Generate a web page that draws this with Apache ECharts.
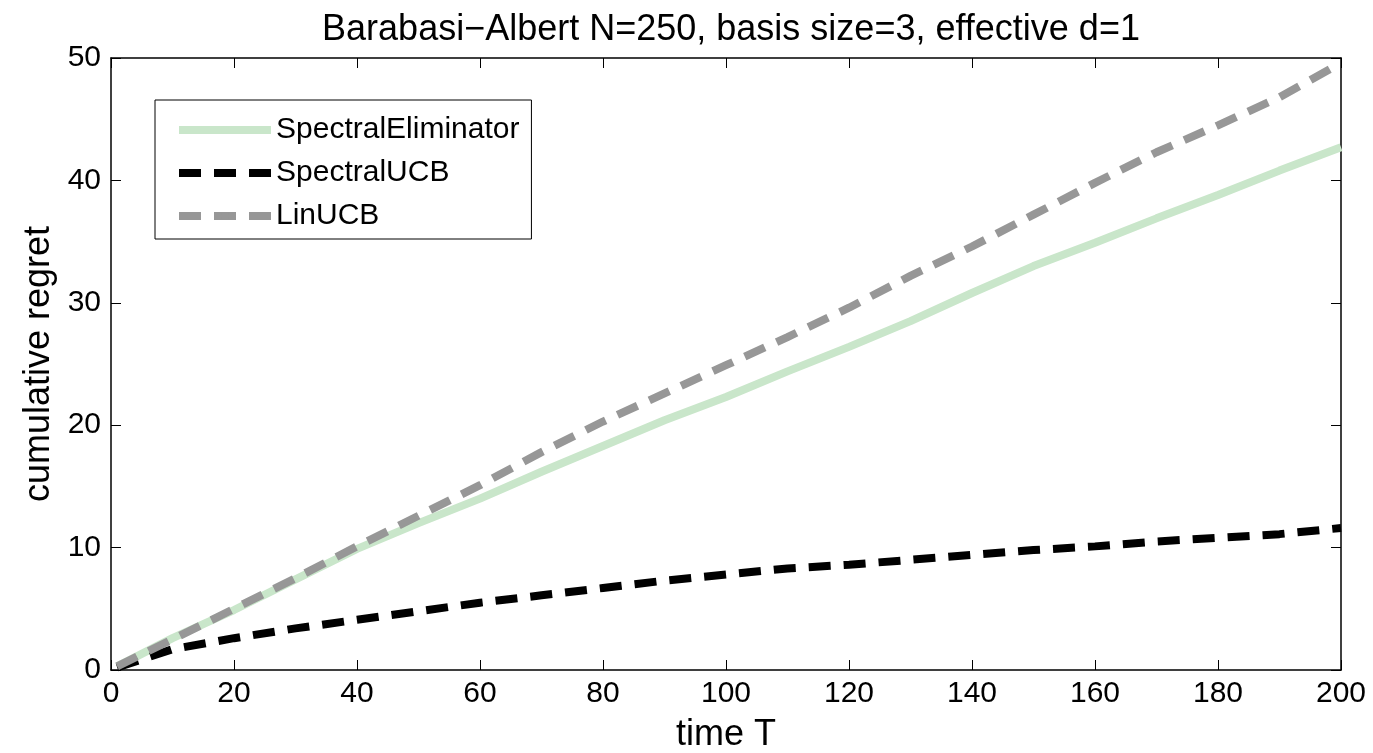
<!DOCTYPE html>
<html>
<head>
<meta charset="utf-8">
<script src="https://cdn.jsdelivr.net/npm/echarts@6/dist/echarts.min.js"></script>
<style>
    html, body { margin: 0; padding: 0; background: #fff; }
    #chart { width: 1373px; height: 753px; }
</style>
</head>
<body>
<div id="chart"></div>
<script>
    // time steps
    var timeT = [1, 10, 20, 30, 40, 50, 60, 70, 80, 90, 100, 110, 120, 130, 140, 150, 160, 170, 180, 190, 200];
    var spectralEliminator = [0.3, 2.6, 4.9, 7.4, 9.9, 12.0, 14.0, 16.2, 18.3, 20.4, 22.3, 24.4, 26.4, 28.5, 30.8, 33.0, 34.9, 36.9, 38.8, 40.8, 42.7];
    var spectralUCB = [0.2, 1.7, 2.6, 3.4, 4.1, 4.8, 5.5, 6.1, 6.7, 7.3, 7.8, 8.3, 8.6, 9.0, 9.4, 9.8, 10.1, 10.5, 10.8, 11.1, 11.6];
    var linUCB = [0.3, 2.5, 5.0, 7.5, 10.1, 12.6, 15.1, 17.8, 20.3, 22.6, 24.9, 27.2, 29.6, 32.2, 34.6, 37.2, 39.8, 42.3, 44.5, 46.8, 49.6];

    function pairs(ys) {
        return timeT.map(function (t, i) { return [t, ys[i]]; });
    }

    var font = 'Liberation Sans, Arial, sans-serif';
    var boxAxisLine = { show: true, onZero: false, lineStyle: { color: '#000', width: 1.5 } };
    var boxTick = { show: true, inside: true, length: 10, lineStyle: { color: '#000', width: 1 } };

    var chart = echarts.init(document.getElementById('chart'));
    var option = {
        animation: false,
        backgroundColor: '#fff',
        title: {
            text: 'Barabasi\u2212Albert N=250, basis size=3, effective d=1',
            left: 726,
            textAlign: 'center',
            top: 7,
            textStyle: { fontFamily: font, fontSize: 36, fontWeight: 'normal', color: '#000' }
        },
        grid: { left: 111, right: 32, top: 58, bottom: 83, outerBoundsMode: 'none', containLabel: false },
        legend: {
            orient: 'vertical',
            left: 155,
            top: 100,
            width: 377,
            padding: [15, 12, 8, 20],
            itemGap: 13,
            itemWidth: 92,
            itemHeight: 10,
            icon: 'inherit',
            lineStyle: { width: 8 },
            borderColor: '#000',
            borderWidth: 1,
            borderRadius: 0,
            backgroundColor: '#fff',
            textStyle: { fontFamily: font, fontSize: 30, color: '#000' },
            data: ['SpectralEliminator', 'SpectralUCB', 'LinUCB']
        },
        xAxis: [{
            type: 'value', min: 0, max: 200, interval: 20,
            name: 'time T', nameLocation: 'middle', nameGap: 47,
            nameTextStyle: { fontFamily: font, fontSize: 36, color: '#000' },
            axisLine: boxAxisLine,
            axisTick: boxTick,
            axisLabel: { fontFamily: font, fontSize: 30, color: '#000', margin: 9 },
            splitLine: { show: false }
        }, {
            type: 'value', min: 0, max: 200, interval: 20, position: 'top',
            axisLine: boxAxisLine,
            axisTick: boxTick,
            axisLabel: { show: false },
            splitLine: { show: false }
        }],
        yAxis: [{
            type: 'value', min: 0, max: 50, interval: 10,
            name: 'cumulative regret', nameLocation: 'middle', nameGap: 53,
            nameTextStyle: { fontFamily: font, fontSize: 36, color: '#000' },
            axisLine: boxAxisLine,
            axisTick: boxTick,
            axisLabel: { fontFamily: font, fontSize: 30, color: '#000', margin: 10 },
            splitLine: { show: false }
        }, {
            type: 'value', min: 0, max: 50, interval: 10, position: 'right',
            axisLine: boxAxisLine,
            axisTick: boxTick,
            axisLabel: { show: false },
            splitLine: { show: false }
        }],
        series: [{
            name: 'SpectralEliminator',
            type: 'line',
            symbol: 'none',
            color: '#c9e6ca',
            lineStyle: { color: '#c9e6ca', width: 8 },
            data: pairs(spectralEliminator)
        }, {
            name: 'SpectralUCB',
            type: 'line',
            symbol: 'none',
            color: '#000',
            lineStyle: { color: '#000', width: 8, type: [22, 13], cap: 'butt' },
            data: pairs(spectralUCB)
        }, {
            name: 'LinUCB',
            type: 'line',
            symbol: 'none',
            color: '#979797',
            lineStyle: { color: '#979797', width: 8, type: [22, 13], cap: 'butt' },
            data: pairs(linUCB)
        }]
    };
    chart.setOption(option);
</script>
</body>
</html>
